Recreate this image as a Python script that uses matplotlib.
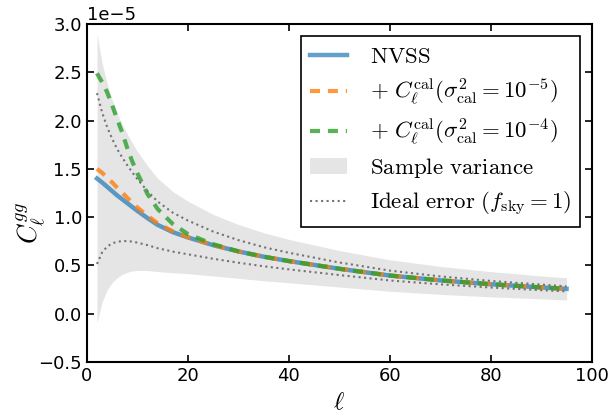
"""
Espectro angular C_ell^gg de NVSS con calibración y errores.
"""
import numpy as np
import matplotlib
matplotlib.use('Agg')
import matplotlib.pyplot as plt

plt.rcParams['mathtext.fontset'] = 'cm'

ESCALA = 1e-5

# multipolos
ell = [2, 3, 4, 5, 6, 7, 8, 9, 10, 12, 14, 17, 20, 25, 30, 35, 40, 50, 60, 70, 80, 90, 95]

# C_ell (unidades de 1e-5)
cl_nvss = [1.400, 1.360, 1.315, 1.270, 1.225, 1.185, 1.145, 1.105, 1.065, 0.990, 0.920,
           0.845, 0.790, 0.710, 0.645, 0.590, 0.545, 0.465, 0.395, 0.345, 0.305, 0.272, 0.257]
cl_cal5 = [1.500, 1.460, 1.410, 1.360, 1.305, 1.255, 1.200, 1.150, 1.100, 1.015, 0.937,
           0.853, 0.793, 0.711, 0.645, 0.590, 0.545, 0.465, 0.395, 0.345, 0.305, 0.272, 0.257]
cl_cal4 = [2.490, 2.400, 2.295, 2.160, 2.015, 1.875, 1.715, 1.575, 1.455, 1.240, 1.085,
           0.930, 0.825, 0.720, 0.646, 0.590, 0.545, 0.465, 0.395, 0.345, 0.305, 0.272, 0.257]

# banda de varianza muestral
sv_sup = [2.896, 2.601, 2.386, 2.218, 2.078, 1.963, 1.861, 1.768, 1.682, 1.533, 1.404,
          1.266, 1.166, 1.029, 0.924, 0.839, 0.770, 0.654, 0.558, 0.490, 0.436, 0.391, 0.372]
sv_inf = [-0.096, 0.119, 0.244, 0.322, 0.372, 0.407, 0.429, 0.442, 0.448, 0.447, 0.436,
          0.424, 0.414, 0.391, 0.366, 0.341, 0.320, 0.276, 0.232, 0.200, 0.174, 0.153, 0.142]

# error ideal (f_sky = 1)
ideal_sup = [2.285, 2.087, 1.935, 1.812, 1.705, 1.618, 1.538, 1.463, 1.394, 1.270, 1.162,
             1.047, 0.965, 0.851, 0.762, 0.689, 0.631, 0.530, 0.446, 0.386, 0.339, 0.301, 0.283]
ideal_inf = [0.515, 0.633, 0.695, 0.728, 0.745, 0.752, 0.752, 0.747, 0.736, 0.710, 0.678,
             0.643, 0.615, 0.569, 0.528, 0.491, 0.459, 0.400, 0.344, 0.304, 0.271, 0.243, 0.231]

ell = np.array(ell)
escalar = lambda v: np.array(v) * ESCALA

fig = plt.figure(figsize=(6.12, 4.16), dpi=100)
ax = fig.add_axes([0.142, 0.130, 0.825, 0.812])

banda = ax.fill_between(ell, escalar(sv_inf), escalar(sv_sup), color='gray', alpha=0.2, lw=0,
                        label=r'$\mathrm{Sample\ variance}$')
l1, = ax.plot(ell, escalar(cl_nvss), color='tab:blue', alpha=0.7, lw=3.2,
              label=r'$\mathrm{NVSS}$')
l2, = ax.plot(ell, escalar(cl_cal5), color='tab:orange', alpha=0.8, lw=3.0, ls=(0, (2.4, 1.9)),
              label=r'$+\ C_\ell^{\rm cal}(\sigma^2_{\rm cal}=10^{-5})$')
l3, = ax.plot(ell, escalar(cl_cal4), color='tab:green', alpha=0.8, lw=3.0, ls=(0, (2.4, 1.9)),
              label=r'$+\ C_\ell^{\rm cal}(\sigma^2_{\rm cal}=10^{-4})$')
l4, = ax.plot(ell, escalar(ideal_sup), color='0.45', lw=1.5, ls=':',
              label=r'$\mathrm{Ideal\ error}\ (f_{\rm sky}=1)$')
ax.plot(ell, escalar(ideal_inf), color='0.45', lw=1.5, ls=':')

ax.set_xlim(0, 100)
ax.set_ylim(-0.5e-5, 3.0e-5)
ax.set_yticks(np.arange(-0.5, 3.01, 0.5) * ESCALA)
ax.set_xticks(np.arange(0, 101, 20))
ax.set_xlabel(r'$\ell$', fontsize=18)
ax.set_ylabel(r'$C_\ell^{gg}$', fontsize=19)
ax.yaxis.set_label_coords(-0.078, 0.41)

ax.tick_params(direction='in', top=True, right=True, length=5, width=1.2, labelsize=13)
ax.yaxis.get_offset_text().set_fontsize(13)
for s in ax.spines.values():
    s.set_linewidth(1.5)

leg = ax.legend(handles=[l1, l2, l3, banda, l4], loc='upper right', fontsize=16.5,
                fancybox=False, edgecolor='black', framealpha=1,
                handlelength=1.6, handletextpad=1.0, labelspacing=0.4, borderaxespad=0.5)
leg.get_frame().set_linewidth(1.2)

fig.savefig('out.png', dpi=100)
